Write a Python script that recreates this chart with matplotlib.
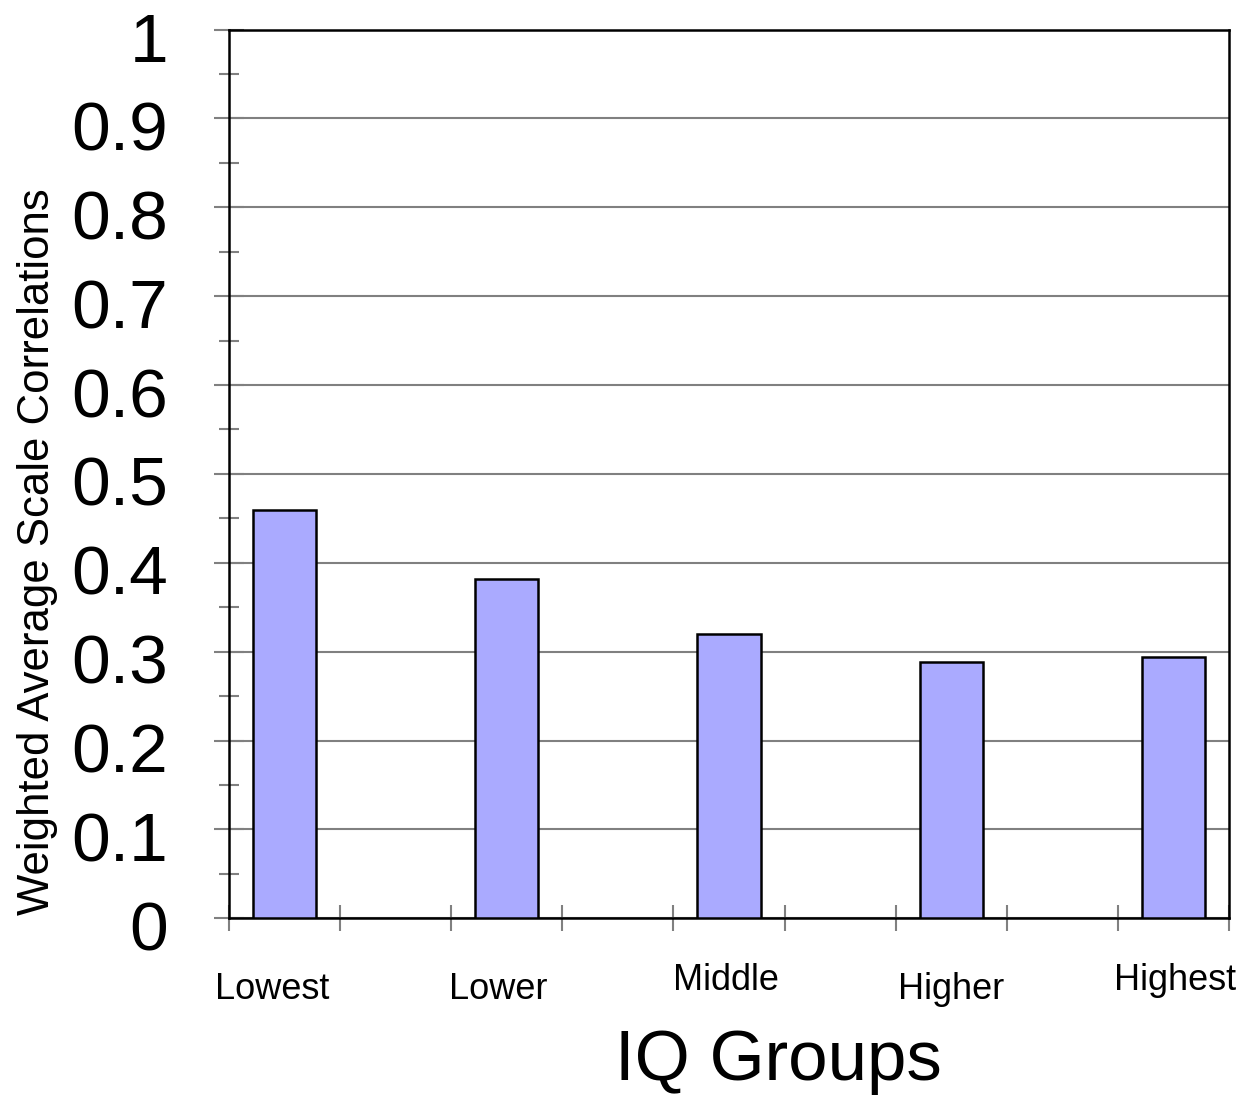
import numpy as np
import matplotlib.pyplot as plt
from matplotlib.transforms import ScaledTranslation

plt.rcParams['font.family'] = ['Liberation Sans', 'DejaVu Sans']

groups = ['Lowest', 'Lower', 'Middle', 'Higher', 'Highest']
correlations = [0.459, 0.382, 0.320, 0.288, 0.294]
y_ticks = [0, 0.1, 0.2, 0.3, 0.4, 0.5, 0.6, 0.7, 0.8, 0.9, 1.0]
y_labels = ['0', '0.1', '0.2', '0.3', '0.4', '0.5', '0.6', '0.7', '0.8', '0.9', '1']

fig = plt.figure(figsize=(12.49, 10.95), dpi=100)
ax = fig.add_axes([229/1249, 1 - 918.3/1095, 1000/1249, 888.8/1095])

# every group sits in an even slot, odd slots are empty
slots = 2*len(groups) - 1
pos = np.arange(len(groups))*2 + 0.5
ax.bar(pos, correlations, width=0.57, color='#aaaaff', edgecolor='black',
       linewidth=1.8, zorder=3)

ax.set_xlim(0, slots)
ax.set_ylim(0, 1)
ax.set_axisbelow(True)

ax.set_yticks(y_ticks)
ax.set_yticklabels(y_labels, fontsize=50)
ax.set_yticks(np.arange(0.05, 1.0, 0.1), minor=True)
ax.yaxis.grid(True, which='major', color='#808080', linewidth=1.5)
ax.tick_params(axis='y', which='major', direction='inout', length=21.6,
               width=1.5, color='#808080', pad=33)
ax.tick_params(axis='y', which='minor', direction='inout', length=13.7,
               width=1.5, color='#808080')

# slot boundaries carry the marks, group centres carry the labels
ax.set_xticks(np.arange(0, slots + 1))
ax.set_xticklabels([])
ax.set_xticks(pos, minor=True)
ax.set_xticklabels(groups, minor=True, fontsize=26)
ax.tick_params(axis='x', which='major', direction='inout', length=18.7,
               width=1.5, color='#808080')
ax.tick_params(axis='x', which='minor', length=0)

lower_pad, upper_pad = 38.5, 32.5
dx = [-12, -9, -3, 0, 2]
for i, t in enumerate(ax.xaxis.get_minor_ticks()):
    t.set_pad(upper_pad if i in (2, 4) else lower_pad)
for i, lab in enumerate(ax.get_xticklabels(minor=True)):
    lab.set_transform(lab.get_transform()
                      + ScaledTranslation(dx[i]/100, 0, fig.dpi_scale_trans))
for lab in ax.get_yticklabels():
    lab.set_transform(lab.get_transform()
                      + ScaledTranslation(0, -7/100, fig.dpi_scale_trans))

for s in ax.spines.values():
    s.set_color('black')
    s.set_linewidth(1.8)

ax.set_xlabel('IQ Groups', fontsize=51)
ax.xaxis.set_label_coords((778 - 229)/1000, -0.125)
ax.set_ylabel('Weighted Average Scale Correlations', fontsize=31.5)
ax.yaxis.set_label_coords(-0.171, (918.3 - 551.5)/888.8)

fig.savefig('out.png', dpi=100)
